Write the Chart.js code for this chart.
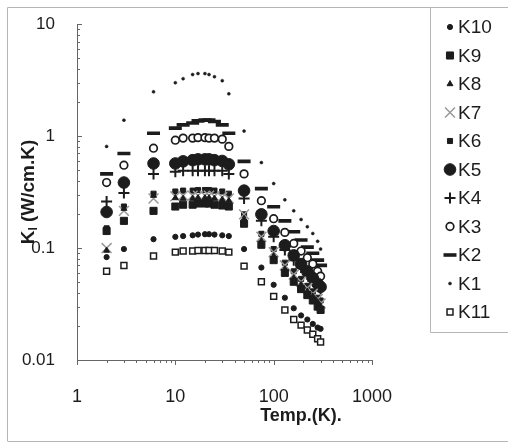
<!DOCTYPE html>
<html>
<head>
<meta charset="utf-8">
<script src="https://cdn.jsdelivr.net/npm/chart.js@4.4.0/dist/chart.umd.min.js"></script>
<style>
html, body { margin: 0; padding: 0; background: #fff; }
#wrap { width: 508px; height: 445px; position: relative; }
</style>
</head>
<body>
<div id="wrap"><canvas id="myChart"></canvas></div>
<script>
// data (K in W/cm.K against T in K)
const temps = [2, 3, 6, 10, 12, 15, 17, 20, 22, 25, 30, 35, 50, 75, 100, 130, 160, 190, 220, 250, 280, 300]
const k1 = [0.81, 1.39, 2.49, 3.0, 3.26, 3.55, 3.62, 3.62, 3.55, 3.4, 3.13, 2.39, 1.11, 0.58, 0.377, 0.27, 0.215, 0.18, 0.155, 0.135, 0.115, 0.098]
const k2 = [0.46, 0.70, 1.06, 1.18, 1.26, 1.31, 1.37, 1.39, 1.39, 1.35, 1.26, 1.06, 0.595, 0.34, 0.234, 0.175, 0.14, 0.118, 0.102, 0.09, 0.078, 0.07]
const k3 = [0.385, 0.55, 0.78, 0.92, 0.96, 0.96, 0.97, 0.97, 0.96, 0.96, 0.94, 0.81, 0.46, 0.265, 0.183, 0.138, 0.11, 0.094, 0.082, 0.072, 0.062, 0.056]
const k4 = [0.26, 0.31, 0.46, 0.48, 0.49, 0.49, 0.49, 0.49, 0.49, 0.49, 0.49, 0.46, 0.277, 0.175, 0.126, 0.096, 0.078, 0.067, 0.058, 0.051, 0.046, 0.043]
const k5 = [0.21, 0.385, 0.57, 0.57, 0.595, 0.61, 0.62, 0.62, 0.62, 0.61, 0.6, 0.56, 0.326, 0.2, 0.142, 0.106, 0.086, 0.072, 0.062, 0.054, 0.048, 0.045]
const k6 = [0.15, 0.235, 0.306, 0.32, 0.326, 0.326, 0.33, 0.33, 0.33, 0.326, 0.32, 0.306, 0.2, 0.134, 0.098, 0.074, 0.062, 0.053, 0.046, 0.041, 0.036, 0.034]
const k7 = [0.10, 0.215, 0.277, 0.29, 0.294, 0.294, 0.294, 0.294, 0.294, 0.29, 0.285, 0.277, 0.2, 0.126, 0.092, 0.07, 0.058, 0.05, 0.044, 0.039, 0.035, 0.032]
const k8 = [0.095, 0.225, 0.294, 0.28, 0.277, 0.277, 0.28, 0.28, 0.28, 0.277, 0.27, 0.265, 0.183, 0.116, 0.085, 0.065, 0.054, 0.047, 0.041, 0.037, 0.033, 0.03]
const k9 = [0.142, 0.175, 0.215, 0.235, 0.244, 0.244, 0.25, 0.25, 0.25, 0.244, 0.24, 0.235, 0.165, 0.107, 0.078, 0.06, 0.05, 0.043, 0.038, 0.034, 0.03, 0.028]
const k10 = [0.083, 0.098, 0.12, 0.126, 0.128, 0.13, 0.132, 0.133, 0.133, 0.132, 0.13, 0.128, 0.098, 0.067, 0.047, 0.036, 0.029, 0.025, 0.023, 0.021, 0.0195, 0.019]
const k11 = [0.062, 0.07, 0.085, 0.092, 0.094, 0.094, 0.095, 0.095, 0.095, 0.095, 0.094, 0.092, 0.069, 0.05, 0.037, 0.028, 0.023, 0.0205, 0.0185, 0.017, 0.0155, 0.0145]

const series_names = ['K10', 'K9', 'K8', 'K7', 'K6', 'K5', 'K4', 'K3', 'K2', 'K1', 'K11']
const series_values = [k10, k9, k8, k7, k6, k5, k4, k3, k2, k1, k11]
const x_ticks = [1, 10, 100, 1000]
const y_ticks = [0.01, 0.1, 1, 10]
const x_title = 'Temp.(K).'
const y_title = ['K', 'l', ' (W/cm.K)']

// marker looks
const ink = '#1c1c1c'
const marks = [
    {pointStyle: 'circle', radius: 2.6, bg: ink, fg: ink, w: 1},
    {pointStyle: 'rect', radius: 5, bg: ink, fg: ink, w: 1},
    {pointStyle: 'triangle', radius: 3.4, bg: ink, fg: ink, w: 1},
    {pointStyle: 'crossRot', radius: 7, bg: '#999', fg: '#999', w: 1.5},
    {pointStyle: 'rect', radius: 3.6, bg: ink, fg: ink, w: 1},
    {pointStyle: 'circle', radius: 5.8, bg: ink, fg: ink, w: 1},
    {pointStyle: 'cross', radius: 5.5, bg: ink, fg: ink, w: 2},
    {pointStyle: 'circle', radius: 3.8, bg: '#fff', fg: ink, w: 1.7},
    {pointStyle: 'line', radius: 6.5, bg: ink, fg: ink, w: 3.6},
    {pointStyle: 'circle', radius: 1.5, bg: ink, fg: ink, w: 0.5},
    {pointStyle: 'rect', radius: 4.2, bg: '#fff', fg: ink, w: 1.5}
]

const datasets = series_names.map((name, i) => ({
    label: name,
    data: temps.map((t, j) => ({x: t, y: series_values[i][j]})),
    showLine: false,
    pointStyle: marks[i].pointStyle,
    pointRadius: marks[i].radius,
    pointHoverRadius: marks[i].radius,
    pointBackgroundColor: marks[i].bg,
    pointBorderColor: marks[i].fg,
    pointBorderWidth: marks[i].w,
    backgroundColor: marks[i].bg,
    borderColor: marks[i].fg
}))

const is_tick = (v, list) => list.some(t => Math.abs(v - t) / t < 1e-6)

// frame, inward ticks, axis titles and the boxed legend
const sketch = {
    id: 'sketch',
    beforeDraw(chart) {
        const ctx = chart.ctx
        ctx.save()
        ctx.fillStyle = '#fff'
        ctx.fillRect(0, 0, chart.width, chart.height)
        ctx.strokeStyle = '#b5b5b5'
        ctx.lineWidth = 1
        ctx.beginPath()
        ctx.moveTo(7.5, 441)
        ctx.lineTo(7.5, 7.5)
        ctx.lineTo(chart.width, 7.5)
        ctx.moveTo(7.5, 441.5)
        ctx.lineTo(chart.width, 441.5)
        ctx.moveTo(430.5, 7.5)
        ctx.lineTo(430.5, 332.5)
        ctx.lineTo(chart.width, 332.5)
        ctx.stroke()
        ctx.restore()
    },
    afterDraw(chart) {
        const ctx = chart.ctx
        const xs = chart.scales.x
        const ys = chart.scales.y
        const area = chart.chartArea
        ctx.save()
        ctx.strokeStyle = '#666'
        ctx.lineWidth = 1
        ctx.beginPath()
        for (let d = 1; d < 1000; d *= 10) {
            for (let m = 1; m <= 10; m++) {
                const px = Math.round(xs.getPixelForValue(d * m)) + 0.5
                ctx.moveTo(px, area.bottom)
                ctx.lineTo(px, area.bottom + (m === 1 || m === 10 ? 5 : 3))
            }
        }
        for (let d = 0.01; d < 10; d *= 10) {
            for (let m = 1; m <= 10; m++) {
                const py = Math.round(ys.getPixelForValue(d * m)) + 0.5
                ctx.moveTo(area.left, py)
                ctx.lineTo(area.left + (m === 1 || m === 10 ? 5 : 3), py)
            }
        }
        ctx.stroke()

        // axis titles
        ctx.fillStyle = '#1c1c1c'
        ctx.textBaseline = 'middle'
        ctx.textAlign = 'center'
        ctx.font = 'bold 18px "Liberation Sans", Arial, sans-serif'
        ctx.fillText(x_title, 301, 416)

        ctx.save()
        ctx.translate(29, 192)
        ctx.rotate(-Math.PI / 2)
        ctx.textAlign = 'left'
        const big = 'bold 19px "Liberation Sans", Arial, sans-serif'
        const small = 'bold 12px "Liberation Sans", Arial, sans-serif'
        ctx.font = big
        const w0 = ctx.measureText(y_title[0]).width
        const w2 = ctx.measureText(y_title[2]).width
        ctx.font = small
        const w1 = ctx.measureText(y_title[1]).width
        let tx = -(w0 + w1 + w2) / 2
        ctx.font = big
        ctx.fillText(y_title[0], tx, 0)
        tx += w0
        ctx.font = small
        ctx.fillText(y_title[1], tx, 5)
        tx += w1
        ctx.font = big
        ctx.fillText(y_title[2], tx, 0)
        ctx.restore()

        // legend
        ctx.font = '19px "Liberation Sans", Arial, sans-serif'
        ctx.textAlign = 'left'
        series_names.forEach((name, i) => {
            const cy = 27 + i * 28.5
            const mk = marks[i]
            ctx.fillStyle = mk.bg
            ctx.strokeStyle = mk.fg
            ctx.lineWidth = mk.w
            Chart.helpers.drawPoint(ctx, {pointStyle: mk.pointStyle, radius: mk.radius, rotation: 0, borderWidth: mk.w}, 450, cy)
            ctx.fillStyle = '#1c1c1c'
            ctx.fillText(name, 458, cy + 1)
        })
        ctx.restore()
    }
}

const pad = {left: 7, top: 18, right: 136, bottom: 20}
const ctx = document.getElementById('myChart').getContext('2d')
const chart = new Chart(ctx, {
    type: 'scatter',
    data: {datasets: datasets},
    options: {
        responsive: true,
        maintainAspectRatio: false,
        animation: false,
        layout: {padding: pad},
        plugins: {legend: {display: false}, tooltip: {enabled: false}},
        scales: {
            x: {
                type: 'logarithmic',
                min: 1,
                max: 1000,
                grid: {display: false},
                border: {display: true, color: '#666', width: 1},
                ticks: {
                    autoSkip: false,
                    maxRotation: 0,
                    padding: 18,
                    color: '#1c1c1c',
                    font: {family: '"Liberation Sans", Arial, sans-serif', size: 18},
                    callback: v => is_tick(v, x_ticks) ? String(v) : ''
                }
            },
            y: {
                type: 'logarithmic',
                min: 0.01,
                max: 10,
                grid: {display: false},
                border: {display: true, color: '#666', width: 1},
                ticks: {
                    autoSkip: false,
                    padding: 14,
                    color: '#1c1c1c',
                    font: {family: '"Liberation Sans", Arial, sans-serif', size: 17},
                    callback: v => is_tick(v, y_ticks) ? String(v) : ''
                }
            }
        }
    },
    plugins: [sketch]
})

// pin the plot area to where the scan has it
const ca = chart.chartArea
chart.options.layout.padding = {
    left: pad.left + (77 - ca.left),
    top: pad.top + (27 - ca.top),
    right: pad.right + (ca.right - 372),
    bottom: pad.bottom + (ca.bottom - 360)
}
chart.update('none')
</script>
</body>
</html>
